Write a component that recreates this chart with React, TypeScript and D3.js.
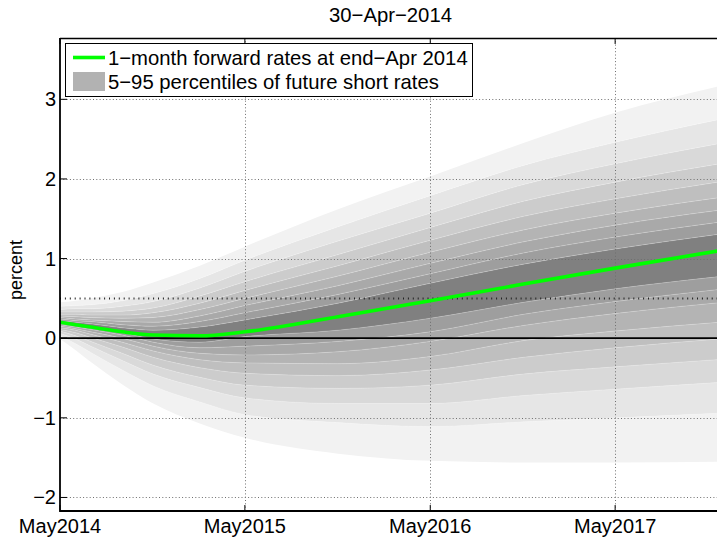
import * as d3 from "d3";

// months after May 2014 at which the fan percentiles were read
const months = [0, 1, 2, 4, 6, 9, 12, 18, 24, 30, 36, 44];

// percentiles of future short rates (percent)
const p05 = [-0.01, -0.15, -0.3, -0.58, -0.82, -1.07, -1.25, -1.45, -1.54, -1.56, -1.56, -1.55];
const p10 = [0.03, -0.07, -0.18, -0.4, -0.6, -0.8, -0.96, -1.06, -1.11, -1.05, -1.0, -0.93];
const p15 = [0.06, -0.01, -0.1, -0.28, -0.45, -0.62, -0.75, -0.82, -0.82, -0.72, -0.64, -0.54];
const p20 = [0.09, 0.03, -0.04, -0.19, -0.34, -0.49, -0.59, -0.63, -0.59, -0.45, -0.36, -0.25];
const p25 = [0.11, 0.07, 0.01, -0.11, -0.24, -0.37, -0.44, -0.47, -0.4, -0.24, -0.12, 0.01];
const p30 = [0.13, 0.1, 0.05, -0.05, -0.16, -0.27, -0.31, -0.32, -0.23, -0.03, 0.09, 0.22];
const p35 = [0.15, 0.12, 0.08, 0.0, -0.1, -0.19, -0.21, -0.17, -0.04, 0.16, 0.31, 0.47];
const p40 = [0.17, 0.14, 0.11, 0.04, -0.05, -0.12, -0.1, -0.04, 0.08, 0.3, 0.46, 0.64];
const p45 = [0.18, 0.16, 0.13, 0.07, -0.01, -0.05, 0.02, 0.1, 0.25, 0.45, 0.62, 0.8];
const p55 = [0.22, 0.2, 0.18, 0.13, 0.1, 0.14, 0.23, 0.44, 0.69, 0.93, 1.12, 1.34];
const p60 = [0.24, 0.22, 0.21, 0.17, 0.15, 0.21, 0.32, 0.55, 0.81, 1.07, 1.27, 1.49];
const p65 = [0.26, 0.24, 0.23, 0.21, 0.2, 0.28, 0.41, 0.66, 0.94, 1.21, 1.42, 1.64];
const p70 = [0.28, 0.27, 0.26, 0.25, 0.26, 0.36, 0.5, 0.78, 1.08, 1.36, 1.57, 1.8];
const p75 = [0.3, 0.3, 0.29, 0.29, 0.32, 0.44, 0.6, 0.91, 1.23, 1.53, 1.75, 2.0];
const p80 = [0.33, 0.33, 0.33, 0.34, 0.38, 0.53, 0.71, 1.05, 1.39, 1.72, 1.96, 2.23];
const p85 = [0.36, 0.37, 0.37, 0.4, 0.46, 0.63, 0.84, 1.22, 1.57, 1.93, 2.19, 2.49];
const p90 = [0.4, 0.41, 0.42, 0.47, 0.56, 0.75, 0.98, 1.4, 1.79, 2.17, 2.46, 2.8];
const p95 = [0.45, 0.47, 0.5, 0.58, 0.7, 0.91, 1.15, 1.62, 2.03, 2.45, 2.83, 3.22];

// 1-month forward rates at end-April 2014
const forward = [0.2, 0.17, 0.14, 0.08, 0.04, 0.03, 0.08, 0.27, 0.47, 0.68, 0.88, 1.14];

const tickYears = [2014, 2015, 2016, 2017];
const yTicks = [-2, -1, 0, 1, 2, 3];
const refLevel = 0.5;

const bounds = [p05, p10, p15, p20, p25, p30, p35, p40, p45, p55, p60, p65, p70, p75, p80, p85, p90, p95];
// grey per band, outer to centre to outer
const bandGreys = [242, 230, 217, 204, 191, 180, 169, 158, 128, 158, 169, 180, 191, 204, 217, 230, 242];

const W = 717;
const H = 543;
const left = 60;
const right = 720;
const top = 38;
const bottom = 511;
const font = "'Liberation Sans', Arial, sans-serif";

export default function App() {
  const start = new Date(2014, 4, 1);
  const dates = months.map(m => d3.timeMonth.offset(start, m));
  const x = d3.scaleTime([start, new Date(2018, 4, 1)], [left, left + 4 * 185]);
  const y = d3.scaleLinear([-2.17, 3.77], [bottom, top]);
  const fmtY = d3.format("d");

  const area = d3.area<number>()
    .x((_, i) => x(dates[i]))
    .curve(d3.curveMonotoneX);
  const line = d3.line<number>()
    .x((_, i) => x(dates[i]))
    .y(d => y(d))
    .curve(d3.curveMonotoneX);

  const bands = bandGreys.map((g, b) => {
    const lo = bounds[b];
    const hi = bounds[b + 1];
    const path = area.y0((_, i) => y(lo[i])).y1((_, i) => y(hi[i]))(lo) as string;
    return { path, fill: `rgb(${g},${g},${g})` };
  });

  const gridX = tickYears.slice(1).map(yr => Math.round(x(new Date(yr, 4, 1))) + 0.5);

  return (
    <svg width={W} height={H} style={{ position: "absolute", left: 0, top: 0, background: "#fff" }}
      fontFamily={font}>
      <defs>
        <clipPath id="plotClip">
          <rect x={left} y={top} width={right - left} height={bottom - top} />
        </clipPath>
      </defs>

      <text x={(left + W) / 2 + 2} y={22} textAnchor="middle" fontSize={20.3}>30−Apr−2014</text>

      <g clipPath="url(#plotClip)">
        {bands.map((b, i) => <path key={i} d={b.path} fill={b.fill} />)}
        {/* faint seams between bands */}
        {bounds.slice(1, -1).map((bd, i) => (
          <path key={i} d={line(bd) as string} fill="none" stroke="#fff" strokeOpacity={0.3} strokeWidth={0.7} />
        ))}

        {/* dotted grid */}
        {gridX.map((gx, i) => (
          <line key={i} x1={gx} x2={gx} y1={top} y2={bottom} stroke="#6e6e6e" strokeDasharray="1 2.3" />
        ))}
        {yTicks.filter(t => t !== 0).map(t => (
          <line key={t} x1={left} x2={right} y1={Math.round(y(t)) + 0.5} y2={Math.round(y(t)) + 0.5}
            stroke="#6e6e6e" strokeDasharray="1 2.3" />
        ))}
        <line x1={left} x2={right} y1={y(refLevel)} y2={y(refLevel)} stroke="#222" strokeWidth={2}
          strokeDasharray="1 3.9" />
        <line x1={left} x2={right} y1={y(0)} y2={y(0)} stroke="#000" strokeWidth={1.8} />

        <path d={line(forward) as string} fill="none" stroke="#00ff00" strokeWidth={3.6} />
      </g>

      {/* axes */}
      <line x1={left} x2={right} y1={top + 0.5} y2={top + 0.5} stroke="#000" strokeWidth={1.3} />
      <line x1={left} x2={right} y1={bottom} y2={bottom} stroke="#000" strokeWidth={1.8} />
      <line x1={left} x2={left} y1={top} y2={bottom + 0.9} stroke="#000" strokeWidth={1.8} />
      {yTicks.map(t => (
        <g key={t}>
          <line x1={left} x2={left + 7} y1={y(t)} y2={y(t)} stroke="#000" />
          <text x={56} y={y(t)} dy="0.35em" textAnchor="end" fontSize={20}>{fmtY(t)}</text>
        </g>
      ))}
      {tickYears.map(yr => {
        const tx = x(new Date(yr, 4, 1));
        return (
          <g key={yr}>
            <line x1={tx} x2={tx} y1={bottom} y2={bottom - 6} stroke="#000" />
            <line x1={tx} x2={tx} y1={top} y2={top + 6} stroke="#000" />
            <text x={tx} y={533} textAnchor="middle" fontSize={20}>{`May${yr}`}</text>
          </g>
        );
      })}
      <text transform={`translate(22,270) rotate(-90)`} textAnchor="middle" fontSize={18}>percent</text>

      {/* legend */}
      <rect x={65.5} y={43.5} width={407} height={53} fill="#fff" stroke="#000" />
      <line x1={73} x2={105} y1={57.5} y2={57.5} stroke="#00ff00" strokeWidth={3.6} />
      <rect x={73} y={72} width={32} height={19} fill="#b2b2b2" />
      <text x={108} y={65} fontSize={20.3}>1−month forward rates at end−Apr 2014</text>
      <text x={108} y={89} fontSize={20.3}>5−95 percentiles of future short rates</text>
    </svg>
  );
}
